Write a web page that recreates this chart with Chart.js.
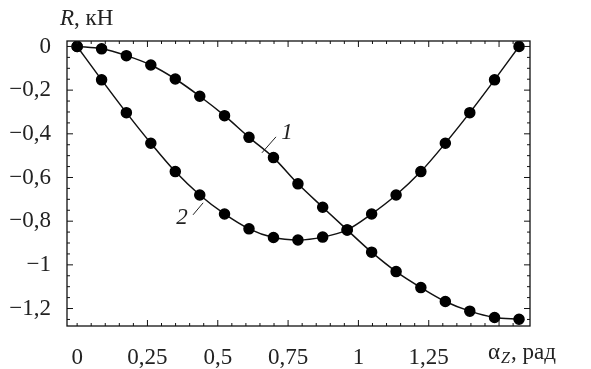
<!DOCTYPE html>
<html>
<head>
<meta charset="utf-8">
<script src="https://cdn.jsdelivr.net/npm/chart.js@4"></script>
<style>
    html, body { margin: 0; padding: 0; background: #fff; }
    #wrap { width: 591px; height: 369px; }
</style>
</head>
<body>
<div id="wrap"><canvas id="chart" width="591" height="369"></canvas></div>
<script>
// angle alpha_Z, rad
const alphaValues = [0, 0.087, 0.175, 0.262, 0.349, 0.436, 0.524, 0.611, 0.698, 0.785,
                     0.873, 0.960, 1.047, 1.134, 1.222, 1.309, 1.396, 1.484, 1.571];
// curve 1, kN
const curve1Values = [0, -0.011, -0.042, -0.085, -0.149, -0.228, -0.317, -0.416, -0.509, -0.629,
                      -0.736, -0.840, -0.942, -1.031, -1.104, -1.168, -1.212, -1.241, -1.249];
// curve 2, kN
const curve2Values = [0, -0.153, -0.303, -0.443, -0.573, -0.680, -0.767, -0.835, -0.875, -0.886,
                      -0.873, -0.840, -0.767, -0.680, -0.573, -0.443, -0.303, -0.153, 0];
const xTicks = [0, 0.25, 0.5, 0.75, 1, 1.25, 1.5];
const yTicks = [0, -0.2, -0.4, -0.6, -0.8, -1, -1.2];

const FONT = "'Liberation Serif', 'Times New Roman', Times, serif";
const FS = 23;

function toPoints(ys) {
    return alphaValues.map((x, i) => ({ x: x, y: ys[i] }));
}

function fmt(v) {
    if (v === 0) return '0';
    return String(v).replace('-', '\u2212').replace('.', ',');
}

// frame with inward ticks on all four sides, curve labels, axis titles
const framePlugin = {
    id: 'frame',
    afterDraw(chart) {
        const ctx = chart.ctx;
        const a = chart.chartArea;
        const xs = chart.scales.x;
        const ys = chart.scales.y;
        ctx.save();
        ctx.strokeStyle = '#111';
        ctx.lineWidth = 1.3;
        ctx.strokeRect(a.left, a.top, a.right - a.left, a.bottom - a.top);

        ctx.lineWidth = 1;
        ctx.beginPath();
        for (let k = 0; k <= 31; k++) {
            const v = k * 0.05;
            const px = xs.getPixelForValue(v);
            const len = (k % 5 === 0 && k > 0) ? 6 : 3;
            ctx.moveTo(px, a.bottom); ctx.lineTo(px, a.bottom - len);
            ctx.moveTo(px, a.top); ctx.lineTo(px, a.top + len);
        }
        for (let k = 0; k <= 25; k++) {
            const v = -k * 0.05;
            const py = ys.getPixelForValue(v);
            const len = (k % 4 === 0) ? 6 : 3;
            ctx.moveTo(a.left, py); ctx.lineTo(a.left + len, py);
            ctx.moveTo(a.right, py); ctx.lineTo(a.right - len, py);
        }
        ctx.stroke();

        // curve labels with leader lines
        ctx.lineWidth = 1;
        ctx.strokeStyle = '#222';
        ctx.beginPath();
        ctx.moveTo(xs.getPixelForValue(0.657), ys.getPixelForValue(-0.487));
        ctx.lineTo(xs.getPixelForValue(0.707), ys.getPixelForValue(-0.414));
        ctx.moveTo(xs.getPixelForValue(0.412), ys.getPixelForValue(-0.771));
        ctx.lineTo(xs.getPixelForValue(0.448), ys.getPixelForValue(-0.716));
        ctx.stroke();

        ctx.fillStyle = '#222';
        ctx.font = 'italic ' + FS + 'px ' + FONT;
        ctx.textAlign = 'center';
        ctx.textBaseline = 'middle';
        ctx.fillText('1', xs.getPixelForValue(0.746), ys.getPixelForValue(-0.396));
        ctx.fillText('2', xs.getPixelForValue(0.373), ys.getPixelForValue(-0.785));

        // y axis title: R, кН
        ctx.textAlign = 'left';
        ctx.textBaseline = 'alphabetic';
        ctx.font = 'italic ' + FS + 'px ' + FONT;
        ctx.fillText('R', 60, 25);
        let w = ctx.measureText('R').width;
        ctx.font = FS + 'px ' + FONT;
        ctx.fillText(', кН', 60 + w, 25);

        // x axis title: αZ, рад
        const bx = 488, by = 359;
        ctx.font = FS + 'px ' + FONT;
        ctx.fillText('\u03b1', bx, by);
        w = ctx.measureText('\u03b1').width;
        ctx.font = 'italic 16px ' + FONT;
        ctx.fillText('Z', bx + w + 1, by + 4);
        const wz = ctx.measureText('Z').width;
        ctx.font = FS + 'px ' + FONT;
        ctx.fillText(', рад', bx + w + wz + 2, by);
        ctx.restore();
    }
};

const lineStyle = {
    borderColor: '#111',
    backgroundColor: '#000',
    borderWidth: 1.5,
    pointRadius: 5,
    pointBackgroundColor: '#000',
    pointBorderColor: '#000',
    showLine: true,
    cubicInterpolationMode: 'monotone',
    fill: false
};

new Chart(document.getElementById('chart').getContext('2d'), {
    type: 'scatter',
    data: {
        datasets: [
            Object.assign({ label: '1', data: toPoints(curve1Values) }, lineStyle),
            Object.assign({ label: '2', data: toPoints(curve2Values) }, lineStyle)
        ]
    },
    options: {
        responsive: false,
        animation: false,
        layout: { padding: { top: 41, right: 61, left: 0, bottom: 0 } },
        plugins: {
            legend: { display: false },
            tooltip: { enabled: false }
        },
        scales: {
            x: {
                type: 'linear',
                min: -0.036,
                max: 1.61,
                grid: { display: false },
                border: { display: false },
                afterBuildTicks: scale => { scale.ticks = xTicks.map(v => ({ value: v })); },
                afterFit: scale => { scale.height = 43; },
                ticks: {
                    color: '#222',
                    font: { family: FONT, size: FS },
                    padding: 10,
                    maxRotation: 0,
                    callback: v => (v === 1.5 ? '' : fmt(v))
                }
            },
            y: {
                type: 'linear',
                min: -1.28,
                max: 0.025,
                grid: { display: false },
                border: { display: false },
                afterBuildTicks: scale => { scale.ticks = yTicks.map(v => ({ value: v })); },
                afterFit: scale => { scale.width = 67; },
                ticks: {
                    color: '#222',
                    font: { family: FONT, size: FS },
                    padding: 8,
                    callback: v => fmt(v)
                }
            }
        }
    },
    plugins: [framePlugin]
});
</script>
</body>
</html>
